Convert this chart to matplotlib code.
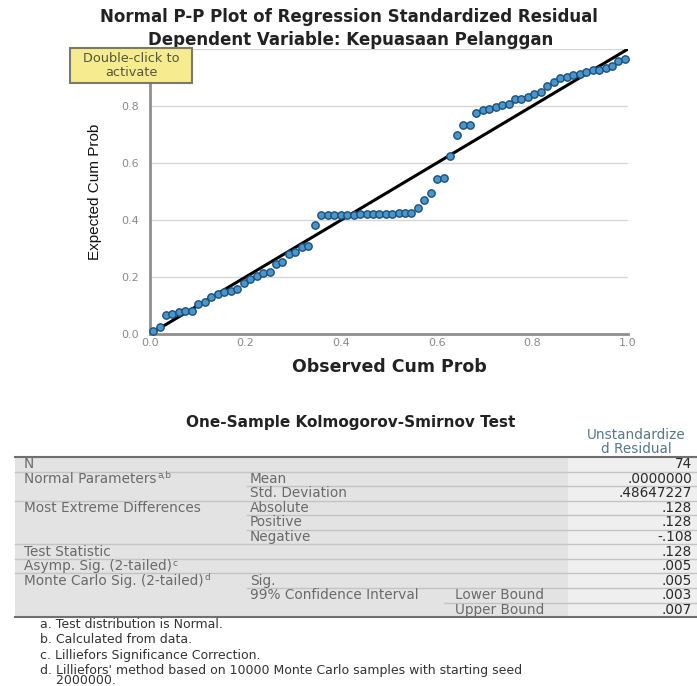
import matplotlib
matplotlib.use("Agg")
import matplotlib.pyplot as plt
from matplotlib.patches import Rectangle

# observed vs expected cumulative probabilities of the standardized residuals
observed_cum = [
    0.007, 0.020, 0.034, 0.047, 0.061, 0.074, 0.088, 0.101, 0.115, 0.128,
    0.142, 0.155, 0.169, 0.182, 0.196, 0.209, 0.223, 0.236, 0.250, 0.264,
    0.277, 0.291, 0.304, 0.318, 0.331, 0.345, 0.358, 0.372, 0.385, 0.399,
    0.412, 0.426, 0.439, 0.453, 0.466, 0.480, 0.493, 0.507, 0.520, 0.534,
    0.547, 0.561, 0.574, 0.588, 0.601, 0.615, 0.628, 0.642, 0.655, 0.669,
    0.682, 0.696, 0.709, 0.723, 0.736, 0.750, 0.764, 0.777, 0.791, 0.804,
    0.818, 0.831, 0.845, 0.858, 0.872, 0.885, 0.899, 0.912, 0.926, 0.939,
    0.953, 0.966, 0.980, 0.993,
]
expected_cum = [
    0.010, 0.025, 0.067, 0.070, 0.077, 0.082, 0.082, 0.105, 0.112, 0.131,
    0.140, 0.147, 0.152, 0.159, 0.180, 0.193, 0.204, 0.214, 0.218, 0.246,
    0.252, 0.282, 0.288, 0.305, 0.310, 0.382, 0.418, 0.418, 0.418, 0.419,
    0.419, 0.419, 0.420, 0.420, 0.420, 0.421, 0.421, 0.422, 0.423, 0.424,
    0.425, 0.442, 0.470, 0.495, 0.544, 0.546, 0.625, 0.698, 0.735, 0.735,
    0.776, 0.786, 0.790, 0.795, 0.804, 0.806, 0.823, 0.826, 0.830, 0.842,
    0.850, 0.870, 0.885, 0.897, 0.903, 0.909, 0.914, 0.920, 0.925, 0.928,
    0.932, 0.940, 0.958, 0.964,
]
diag = [0.0, 1.0]
prob_ticks = [0.0, 0.2, 0.4, 0.6, 0.8, 1.0]

# K-S test table
ks_main = ["N", "Normal Parameters", "", "Most Extreme Differences", "", "",
           "Test Statistic", "Asymp. Sig. (2-tailed)", "Monte Carlo Sig. (2-tailed)", "", ""]
ks_note = ["", "a,b", "", "", "", "", "", "c", "d", "", ""]
ks_sub = ["", "Mean", "Std. Deviation", "Absolute", "Positive", "Negative",
          "", "", "Sig.", "99% Confidence Interval", ""]
ks_bound = ["", "", "", "", "", "", "", "", "", "Lower Bound", "Upper Bound"]
ks_values = ["74", ".0000000", ".48647227", ".128", ".128", "-.108",
             ".128", ".005", ".005", ".003", ".007"]
# where each row's bottom rule starts: 0 full width, 1 sub column, 2 bound column
ks_rule = [0, 1, 0, 1, 1, 0, 0, 0, 1, 2, 0]
footnotes = [
    "a. Test distribution is Normal.",
    "b. Calculated from data.",
    "c. Lilliefors Significance Correction.",
    "d. Lilliefors' method based on 10000 Monte Carlo samples with starting seed\n    2000000.",
]

W, H = 697, 686
fig = plt.figure(figsize=(W / 100, H / 100), dpi=100)
fig.patch.set_facecolor("white")

ax = fig.add_axes([150 / W, 1 - 334 / H, 478 / W, 285 / H])
ax.set_xlim(0, 1)
ax.set_ylim(0, 1)
ax.set_xticks(prob_ticks)
ax.set_yticks(prob_ticks)
ax.set_xticklabels([f"{t:.1f}" for t in prob_ticks])
# top label sits under the activation tag
ax.set_yticklabels([f"{t:.1f}" if t < 1 else "" for t in prob_ticks])
ax.tick_params(length=0, labelsize=8, labelcolor="#8a8a8a")
ax.tick_params(axis="y", pad=8)
ax.tick_params(axis="x", pad=3)
for side in ("top", "right"):
    ax.spines[side].set_visible(False)
for side in ("left", "bottom"):
    ax.spines[side].set_color("#8f8f8f")
    ax.spines[side].set_linewidth(2)
ax.grid(axis="y", color="#d6d6d6", linewidth=1)
ax.set_axisbelow(True)

ax.plot(diag, diag, color="black", linewidth=2.2, zorder=3)
ax.scatter(observed_cum, expected_cum, s=28, facecolor="#4a96cc",
           edgecolor="#1d4f78", linewidth=1, zorder=4, clip_on=False)

ax.set_xlabel("Observed Cum Prob", fontsize=12.5, fontweight="bold", color="#222222", labelpad=7)
ax.set_ylabel("Expected Cum Prob", fontsize=11, color="#111111",
              family=["Liberation Sans", "DejaVu Sans"], labelpad=14)

# overlay in pixel units for titles, the activation tag and the table
ov = fig.add_axes([0, 0, 1, 1])
ov.set_xlim(0, W)
ov.set_ylim(H, 0)
ov.axis("off")

ov.text(349, 17, "Normal P-P Plot of Regression Standardized Residual",
        ha="center", va="center", fontsize=12, fontweight="bold", color="#222222")
ov.text(351, 40, "Dependent Variable: Kepuasaan Pelanggan",
        ha="center", va="center", fontsize=12, fontweight="bold", color="#222222")

ov.add_patch(Rectangle((70, 48), 122, 35, facecolor="#f6ec8f", edgecolor="#7a7a6a",
                       linewidth=1.5, zorder=5))
ov.text(131, 65.5, "Double-click to\nactivate", ha="center", va="center",
        fontsize=9.3, color="#55553a", linespacing=1.15, zorder=6)

# table
ov.text(351, 422, "One-Sample Kolmogorov-Smirnov Test", ha="center", va="center",
        fontsize=11, fontweight="bold", color="#222222")
ov.text(636, 442, "Unstandardize\nd Residual", ha="center", va="center",
        fontsize=9.8, color="#55798a", linespacing=0.95)

top, row_h = 457, 14.55
left, col2, col3, col_val, right = 15, 247, 444, 568, 697
n_rows = len(ks_values)
bottom = top + n_rows * row_h
ov.add_patch(Rectangle((left, top), col_val - left, bottom - top,
                       facecolor="#e3e3e3", edgecolor="none"))
ov.add_patch(Rectangle((col_val, top), right - col_val, bottom - top,
                       facecolor="#efefef", edgecolor="none"))
renderer = fig.canvas.get_renderer()
to_px = ov.transData.inverted()
starts = [left, col2, col3]
for i in range(n_rows):
    yc = top + (i + 0.5) * row_h
    txt_kw = dict(va="center", fontsize=9.8, color="#6a6a6a")
    if ks_main[i]:
        t = ov.text(24, yc, ks_main[i], ha="left", **txt_kw)
        if ks_note[i]:
            x_end = to_px.transform(t.get_window_extent(renderer).p1)[0]
            ov.text(x_end + 0.5, yc - 3, ks_note[i], ha="left", va="center",
                    fontsize=6.5, color="#6a6a6a")
    if ks_sub[i]:
        ov.text(250, yc, ks_sub[i], ha="left", **txt_kw)
    if ks_bound[i]:
        ov.text(455, yc, ks_bound[i], ha="left", **txt_kw)
    ov.text(692, yc, ks_values[i], ha="right", va="center", fontsize=9.8, color="#2a2a2a")
    yb = top + (i + 1) * row_h
    if i < n_rows - 1:
        ov.plot([starts[ks_rule[i]], right], [yb, yb], color="#c4c4c4", linewidth=1)
ov.plot([left, right], [top, top], color="#6f6f6f", linewidth=1.5)
ov.plot([left, right], [bottom, bottom], color="#6f6f6f", linewidth=1.5)

for k, note in enumerate(footnotes):
    ov.text(40, 618 + k * 15.3, note, ha="left", va="top",
            fontsize=9, color="#333333", linespacing=0.75)

fig.savefig("out.png", dpi=100)
